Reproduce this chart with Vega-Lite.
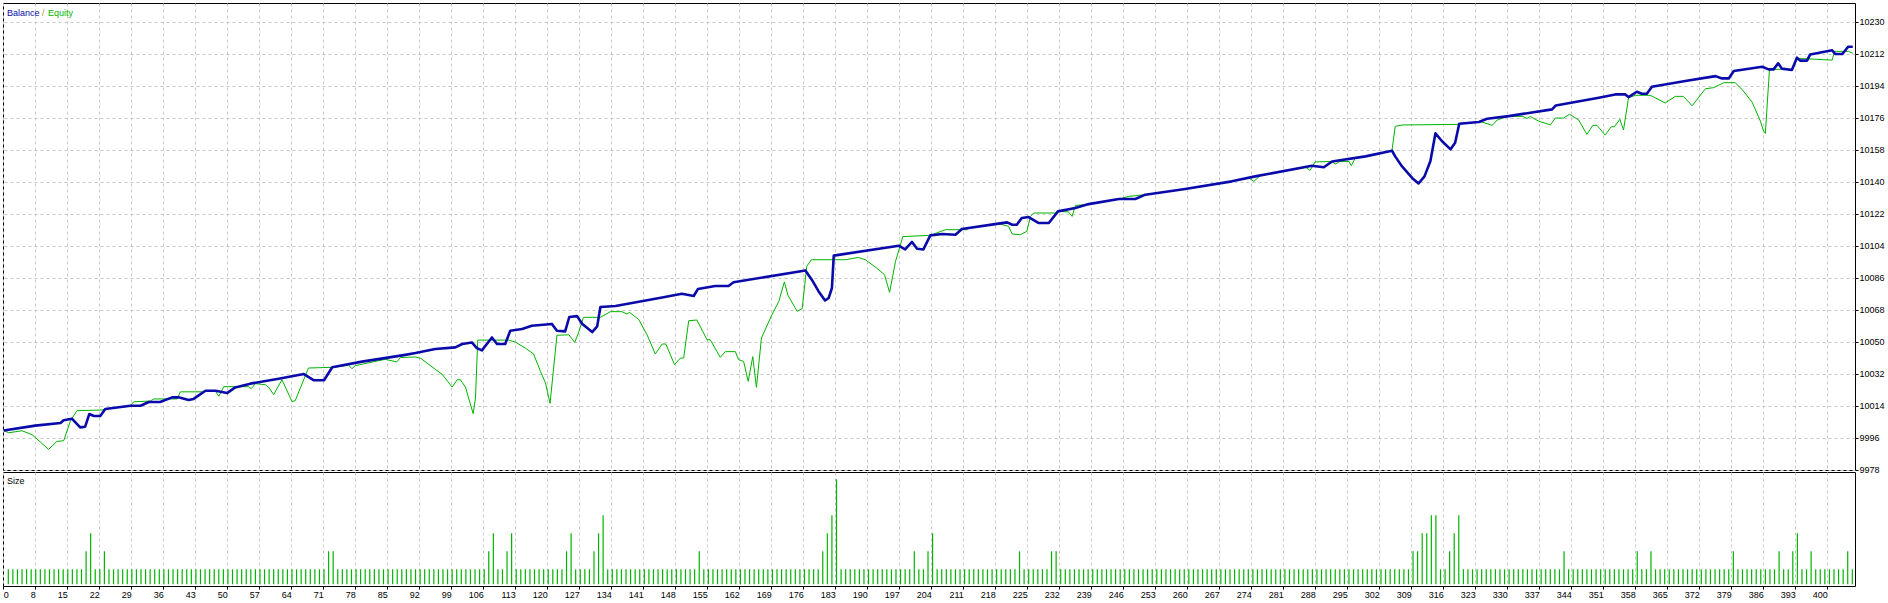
{
  "$schema": "https://vega.github.io/schema/vega-lite/v6.json",
  "background": "white",
  "padding": {"left": 1, "top": 2, "right": 0, "bottom": 0},
  "spacing": 2,
  "bounds": "flush",
  "config": {
    "font": "Liberation Sans",
    "view": {"stroke": "#000000", "strokeWidth": 1},
    "axis": {"domain": false, "labelFont": "Liberation Sans", "labelFontSize": 9, "labelColor": "#000000", "tickColor": "#000000", "gridColor": "#C8C8C8", "gridDash": [3, 3], "gridWidth": 1, "labelOverlap": false, "labelFlush": false}
  },
  "datasets": {
    "balance": [
      {"n":1,"v":10000},{"n":7.9,"v":10002.8},{"n":13.4,"v":10004.3},{"n":14.1,"v":10005.8},{"n":15.9,"v":10006.7},{"n":17.7,"v":10001.8},{"n":18.8,"v":10002.2},{"n":19.7,"v":10009.3},{"n":20.7,"v":10008.2},{"n":22.1,"v":10008.2},{"n":23.2,"v":10012.1},{"n":28.7,"v":10014},{"n":30.9,"v":10014},{"n":32.7,"v":10016.1},{"n":35.2,"v":10016.1},{"n":37.8,"v":10018.7},{"n":39.2,"v":10018.7},{"n":41.4,"v":10017.2},{"n":42.5,"v":10017.8},{"n":45.1,"v":10022.4},{"n":47.3,"v":10022.4},{"n":49.8,"v":10021.1},{"n":51.6,"v":10024.3},{"n":54.9,"v":10026.4},{"n":61.1,"v":10029.2},{"n":66.6,"v":10031.8},{"n":68.8,"v":10028.3},{"n":71,"v":10028.3},{"n":72.8,"v":10035.6},{"n":79.3,"v":10038.8},{"n":88.1,"v":10042.3},{"n":91,"v":10043.6},{"n":95.3,"v":10045.9},{"n":99.7,"v":10046.8},{"n":101.2,"v":10048.7},{"n":103.3,"v":10049.6},
      {"n":104.4,"v":10046.4},{"n":105.5,"v":10045.1},{"n":107.7,"v":10052.4},{"n":108.8,"v":10048.7},{"n":110.6,"v":10048.7},{"n":111.7,"v":10056.2},{"n":114.3,"v":10057.1},{"n":116.4,"v":10059},{"n":120.8,"v":10060},{"n":121.9,"v":10056.2},{"n":123.7,"v":10055.8},{"n":124.6,"v":10063.9},{"n":126.3,"v":10064.4},{"n":127.4,"v":10060.1},{"n":129.6,"v":10055.4},{"n":130.7,"v":10058.6},{"n":131.4,"v":10069.5},{"n":134.7,"v":10070.1},{"n":144.9,"v":10074.9},{"n":149.2,"v":10077},{"n":151.8,"v":10075.7},{"n":152.7,"v":10079.6},{"n":156.5,"v":10081.3},{"n":159.4,"v":10081.3},{"n":160.5,"v":10083.4},{"n":176.2,"v":10090.1},{"n":177.6,"v":10084.9},{"n":179.1,"v":10078.3},{"n":180.5,"v":10073.2},{"n":181.3,"v":10074.6},{"n":182,"v":10080.2},{"n":182.4,"v":10098.4},{"n":196.6,"v":10104},{"n":198,"v":10101.9},{"n":199.5,"v":10106.1},{"n":200.6,"v":10102.3},{"n":202,"v":10101.9},{"n":203.5,"v":10109.8},
      {"n":206.1,"v":10110.6},{"n":209,"v":10110.2},{"n":210.4,"v":10113.4},{"n":218.4,"v":10116.4},{"n":220.3,"v":10117.1},{"n":221.4,"v":10115.8},{"n":222.4,"v":10115.8},{"n":223.5,"v":10119.6},{"n":225,"v":10120.1},{"n":227.2,"v":10116.75},{"n":229.4,"v":10116.75},{"n":231.4,"v":10123.3},{"n":235.2,"v":10125.2},{"n":238.1,"v":10127.4},{"n":244.7,"v":10130.25},{"n":248.3,"v":10130.25},{"n":250.5,"v":10132.7},{"n":259.2,"v":10135.9},{"n":269.4,"v":10140.2},{"n":274.5,"v":10143},{"n":286.9,"v":10149},{"n":289.5,"v":10148.1},{"n":291.3,"v":10151.4},{"n":298.6,"v":10154.25},{"n":304.4,"v":10157.4},{"n":305.1,"v":10154.25},{"n":306.6,"v":10148.6},{"n":308.8,"v":10142.1},{"n":310.2,"v":10139},{"n":311.5,"v":10143},{"n":312.8,"v":10151.6},{"n":313.9,"v":10167.2},{"n":315.3,"v":10162.9},{"n":317.2,"v":10158.2},{"n":318.2,"v":10161.9},{"n":319.1,"v":10172.6},{"n":323.4,"v":10173.6},{"n":325.2,"v":10175.4},{"n":329.9,"v":10176.9},{"n":339.4,"v":10180.7},{"n":340.2,"v":10182.9},{"n":349.6,"v":10187.25},{"n":353.2,"v":10189.1},{"n":355.4,"v":10189.1},{"n":356.1,"v":10187.6},{"n":357.9,"v":10190.6},{"n":359,"v":10189.5},{"n":360.1,"v":10189.5},{"n":361.2,"v":10193.4},{"n":368.5,"v":10196.6},{"n":375.1,"v":10199.4},{"n":376.5,"v":10198.1},{"n":378,"v":10198.1},{"n":379.1,"v":10202.25},{"n":385.3,"v":10204.7},{"n":386.7,"v":10203.2},{"n":387.8,"v":10203.2},{"n":388.8,"v":10206.6},{"n":389.6,"v":10203.6},{"n":391.8,"v":10202.8},{"n":392.9,"v":10209.75},{"n":393.6,"v":10208.1},{"n":395.1,"v":10208.1},{"n":395.8,"v":10211.6},{"n":400.6,"v":10213.9},{"n":401.3,"v":10211.8},{"n":402.8,"v":10211.8},{"n":404.1,"v":10215.9},{"n":405.1,"v":10215.9}
    ],
    "equity": [
      {"n":1,"v":10000},{"n":2.1,"v":9998.8},{"n":5,"v":9999.9},{"n":7.2,"v":9997.7},{"n":9,"v":9993.6},{"n":10.8,"v":9989.4},{"n":12.6,"v":9993.9},{"n":14.1,"v":9994.3},{"n":15.6,"v":10005.6},{"n":17,"v":10011.2},{"n":22.5,"v":10011.6},{"n":23.2,"v":10012.1},{"n":28.7,"v":10014},{"n":29.4,"v":10016.2},{"n":33,"v":10016.6},{"n":33.8,"v":10017.8},{"n":38.9,"v":10017.8},{"n":39.6,"v":10021.8},{"n":44.7,"v":10021.8},{"n":45.4,"v":10022.4},{"n":47.3,"v":10022.1},{"n":48,"v":10019.3},{"n":49.1,"v":10024.7},{"n":54.5,"v":10024.7},{"n":55.1,"v":10023.6},{"n":56,"v":10026.4},{"n":58.2,"v":10025.8},{"n":58.9,"v":10024.3},{"n":60,"v":10020.2},{"n":61.8,"v":10028.6},{"n":64,"v":10016.4},{"n":64.7,"v":10016.8},{"n":67.6,"v":10035.2},{"n":73.1,"v":10035.6},{"n":76.4,"v":10036.8},{"n":77.1,"v":10034.8},{"n":77.8,"v":10036.5},{"n":84.4,"v":10040.1},{"n":86.9,"v":10038.6},{"n":87.7,"v":10041.1},{"n":91,"v":10041.4},{"n":92.1,"v":10040.7},{"n":95.3,"v":10034.5},{"n":96.8,"v":10031.7},{"n":99,"v":10024.5},{"n":100.1,"v":10028.6},{"n":100.8,"v":10028.6},{"n":101.9,"v":10024.5},{"n":103.6,"v":10009.5},{"n":104.1,"v":10018.3},{"n":104.6,"v":10050.9},
      {"n":111.35,"v":10050.9},{"n":112.8,"v":10049.8},{"n":115,"v":10046.4},{"n":116.8,"v":10043.1},{"n":118.3,"v":10033.3},{"n":119.4,"v":10026.75},{"n":120.4,"v":10015.3},{"n":121.9,"v":10053.6},{"n":124.5,"v":10053.9},{"n":125.8,"v":10049.6},{"n":126.6,"v":10054.9},{"n":127.7,"v":10063.7},{"n":131.4,"v":10063.7},{"n":133.6,"v":10066.9},{"n":136.1,"v":10066.9},{"n":137.2,"v":10065.6},{"n":137.8,"v":10066.5},{"n":139.8,"v":10062.4},{"n":141.6,"v":10053.9},{"n":143.4,"v":10043.1},{"n":144.9,"v":10048.7},{"n":145.7,"v":10048.7},{"n":147.6,"v":10037.1},{"n":148.9,"v":10040.8},{"n":149.6,"v":10040.8},{"n":150.7,"v":10061.8},{"n":152.5,"v":10062.2},{"n":154.7,"v":10051.1},{"n":155.4,"v":10051.1},{"n":157.6,"v":10041.2},{"n":158.7,"v":10044.4},{"n":160.9,"v":10044.4},{"n":161.6,"v":10039.9},{"n":162.7,"v":10038.9},{"n":163.7,"v":10027.7},{"n":164.7,"v":10041.6},{"n":165.5,"v":10024.3},{"n":166.6,"v":10052.1},{"n":168.9,"v":10065.2},{"n":170.4,"v":10072.7},{"n":171.6,"v":10083.6},{"n":172.4,"v":10076.1},{"n":174.4,"v":10067.1},{"n":175.5,"v":10068.6},{"n":176.5,"v":10092.4},{"n":177.5,"v":10096.1},{"n":184.9,"v":10096.1},{"n":187.8,"v":10097.4},{"n":189.3,"v":10096.1},{"n":191.8,"v":10091.4},{"n":193.5,"v":10087.7},{"n":194.6,"v":10077.75},{"n":195.9,"v":10095.2},{"n":197.5,"v":10109.1},{"n":203.1,"v":10109.8},{"n":203.5,"v":10109.8},
      {"n":206.8,"v":10113},{"n":211.5,"v":10113},{"n":211.9,"v":10114},{"n":218.4,"v":10116.4},{"n":220.6,"v":10114.9},{"n":221.4,"v":10110.6},{"n":223.2,"v":10110.2},{"n":224.6,"v":10112.1},{"n":225.4,"v":10120.5},{"n":226.1,"v":10122.4},{"n":231.2,"v":10122.4},{"n":231.4,"v":10123.3},{"n":233.7,"v":10123},{"n":234.5,"v":10120.5},{"n":235.2,"v":10126.7},{"n":238.1,"v":10127.1},{"n":244.7,"v":10130.25},{"n":246.9,"v":10131.75},{"n":250.5,"v":10132.7},{"n":259.2,"v":10135.9},{"n":269.4,"v":10140.2},{"n":273.1,"v":10142.1},{"n":274.2,"v":10140.2},{"n":275.6,"v":10143.4},{"n":285.5,"v":10148.1},{"n":286.5,"v":10146.4},{"n":287.6,"v":10151.1},{"n":291.3,"v":10151.4},{"n":292,"v":10149.9},{"n":293,"v":10151.4},{"n":295,"v":10151.4},{"n":295.5,"v":10149},{"n":296.4,"v":10153.5},{"n":298.6,"v":10154.25},{"n":304.4,"v":10157.4},{"n":305.1,"v":10171.1},{"n":306.6,"v":10171.9},{"n":319,"v":10172.25},{"n":319.1,"v":10172.6},{"n":323.4,"v":10173.6},{"n":324,"v":10173.6},{"n":326.3,"v":10171.7},{"n":327.4,"v":10174.7},{"n":329.9,"v":10176.9},{"n":333,"v":10176.7},{"n":333.9,"v":10175.6},{"n":334.6,"v":10176.7},{"n":336.5,"v":10174},{"n":338.3,"v":10172.6},{"n":339,"v":10171.9},{"n":340.1,"v":10175.8},{"n":341.9,"v":10175.8},{"n":343.2,"v":10177.9},{"n":345.2,"v":10174.7},{"n":347,"v":10166.6},{"n":348.3,"v":10171.7},{"n":349.2,"v":10171.7},{"n":351,"v":10166.2},{"n":352.3,"v":10170.9},{"n":353,"v":10170.9},{"n":354.2,"v":10175.1},{"n":355,"v":10169.1},{"n":356.1,"v":10187.25},{"n":357.6,"v":10188.6},{"n":360.5,"v":10188.6},{"n":361.2,"v":10188.2},{"n":364.1,"v":10184.25},{"n":366.3,"v":10188},{"n":368.1,"v":10188},{"n":370,"v":10182.7},{"n":372.9,"v":10192.3},{"n":374.7,"v":10192.9},{"n":376.9,"v":10195.7},{"n":379.4,"v":10195.7},{"n":380.9,"v":10191.9},{"n":383.1,"v":10184.8},{"n":384.9,"v":10174.1},{"n":385.6,"v":10168.5},{"n":386,"v":10167.2},{"n":386.9,"v":10203.2},{"n":391.8,"v":10203.2},{"n":392.9,"v":10209.4},{"n":400.6,"v":10208.4},{"n":401.1,"v":10213.3},{"n":404.2,"v":10213.3},{"n":405.1,"v":10212.2}
    ],
    "sizes": [
      {"n":2,"s":0.01},{"n":3,"s":0.01},{"n":4,"s":0.01},{"n":5,"s":0.01},{"n":6,"s":0.01},{"n":7,"s":0.01},{"n":8,"s":0.01},{"n":9,"s":0.01},{"n":10,"s":0.01},{"n":11,"s":0.01},
      {"n":12,"s":0.01},{"n":13,"s":0.01},{"n":14,"s":0.01},{"n":15,"s":0.01},{"n":16,"s":0.01},{"n":17,"s":0.01},{"n":18,"s":0.01},{"n":19,"s":0.02},{"n":20,"s":0.03},{"n":21,"s":0.01},
      {"n":22,"s":0.01},{"n":23,"s":0.02},{"n":24,"s":0.01},{"n":25,"s":0.01},{"n":26,"s":0.01},{"n":27,"s":0.01},{"n":28,"s":0.01},{"n":29,"s":0.01},{"n":30,"s":0.01},{"n":31,"s":0.01},
      {"n":32,"s":0.01},{"n":33,"s":0.01},{"n":34,"s":0.01},{"n":35,"s":0.01},{"n":36,"s":0.01},{"n":37,"s":0.01},{"n":38,"s":0.01},{"n":39,"s":0.01},{"n":40,"s":0.01},{"n":41,"s":0.01},
      {"n":42,"s":0.01},{"n":43,"s":0.01},{"n":44,"s":0.01},{"n":45,"s":0.01},{"n":46,"s":0.01},{"n":47,"s":0.01},{"n":48,"s":0.01},{"n":49,"s":0.01},{"n":50,"s":0.01},{"n":51,"s":0.01},
      {"n":52,"s":0.01},{"n":53,"s":0.01},{"n":54,"s":0.01},{"n":55,"s":0.01},{"n":56,"s":0.01},{"n":57,"s":0.01},{"n":58,"s":0.01},{"n":59,"s":0.01},{"n":60,"s":0.01},{"n":61,"s":0.01},
      {"n":62,"s":0.01},{"n":63,"s":0.01},{"n":64,"s":0.01},{"n":65,"s":0.01},{"n":66,"s":0.01},{"n":67,"s":0.01},{"n":68,"s":0.01},{"n":69,"s":0.01},{"n":70,"s":0.01},{"n":71,"s":0.01},
      {"n":72,"s":0.02},{"n":73,"s":0.02},{"n":74,"s":0.01},{"n":75,"s":0.01},{"n":76,"s":0.01},{"n":77,"s":0.01},{"n":78,"s":0.01},{"n":79,"s":0.01},{"n":80,"s":0.01},{"n":81,"s":0.01},
      {"n":82,"s":0.01},{"n":83,"s":0.01},{"n":84,"s":0.01},{"n":85,"s":0.01},{"n":86,"s":0.01},{"n":87,"s":0.01},{"n":88,"s":0.01},{"n":89,"s":0.01},{"n":90,"s":0.01},{"n":91,"s":0.01},
      {"n":92,"s":0.01},{"n":93,"s":0.01},{"n":94,"s":0.01},{"n":95,"s":0.01},{"n":96,"s":0.01},{"n":97,"s":0.01},{"n":98,"s":0.01},{"n":99,"s":0.01},{"n":100,"s":0.01},{"n":101,"s":0.01},
      {"n":102,"s":0.01},{"n":103,"s":0.01},{"n":104,"s":0.01},{"n":105,"s":0.01},{"n":106,"s":0.01},{"n":107,"s":0.02},{"n":108,"s":0.03},{"n":109,"s":0.01},{"n":110,"s":0.01},{"n":111,"s":0.02},
      {"n":112,"s":0.03},{"n":113,"s":0.01},{"n":114,"s":0.01},{"n":115,"s":0.01},{"n":116,"s":0.01},{"n":117,"s":0.01},{"n":118,"s":0.01},{"n":119,"s":0.01},{"n":120,"s":0.01},{"n":121,"s":0.01},
      {"n":122,"s":0.01},{"n":123,"s":0.01},{"n":124,"s":0.02},{"n":125,"s":0.03},{"n":126,"s":0.01},{"n":127,"s":0.01},{"n":128,"s":0.01},{"n":129,"s":0.01},{"n":130,"s":0.02},{"n":131,"s":0.03},
      {"n":132,"s":0.04},{"n":133,"s":0.01},{"n":134,"s":0.01},{"n":135,"s":0.01},{"n":136,"s":0.01},{"n":137,"s":0.01},{"n":138,"s":0.01},{"n":139,"s":0.01},{"n":140,"s":0.01},{"n":141,"s":0.01},
      {"n":142,"s":0.01},{"n":143,"s":0.01},{"n":144,"s":0.01},{"n":145,"s":0.01},{"n":146,"s":0.01},{"n":147,"s":0.01},{"n":148,"s":0.01},{"n":149,"s":0.01},{"n":150,"s":0.01},{"n":151,"s":0.01},
      {"n":152,"s":0.01},{"n":153,"s":0.02},{"n":154,"s":0.01},{"n":155,"s":0.01},{"n":156,"s":0.01},{"n":157,"s":0.01},{"n":158,"s":0.01},{"n":159,"s":0.01},{"n":160,"s":0.01},{"n":161,"s":0.01},
      {"n":162,"s":0.01},{"n":163,"s":0.01},{"n":164,"s":0.01},{"n":165,"s":0.01},{"n":166,"s":0.01},{"n":167,"s":0.01},{"n":168,"s":0.01},{"n":169,"s":0.01},{"n":170,"s":0.01},{"n":171,"s":0.01},
      {"n":172,"s":0.01},{"n":173,"s":0.01},{"n":174,"s":0.01},{"n":175,"s":0.01},{"n":176,"s":0.01},{"n":177,"s":0.01},{"n":178,"s":0.01},{"n":179,"s":0.01},{"n":180,"s":0.02},{"n":181,"s":0.03},
      {"n":182,"s":0.04},{"n":183,"s":0.06},{"n":184,"s":0.01},{"n":185,"s":0.01},{"n":186,"s":0.01},{"n":187,"s":0.01},{"n":188,"s":0.01},{"n":189,"s":0.01},{"n":190,"s":0.01},{"n":191,"s":0.01},
      {"n":192,"s":0.01},{"n":193,"s":0.01},{"n":194,"s":0.01},{"n":195,"s":0.01},{"n":196,"s":0.01},{"n":197,"s":0.01},{"n":198,"s":0.01},{"n":199,"s":0.01},{"n":200,"s":0.02},{"n":201,"s":0.01},
      {"n":202,"s":0.01},{"n":203,"s":0.02},{"n":204,"s":0.03},{"n":205,"s":0.01},{"n":206,"s":0.01},{"n":207,"s":0.01},{"n":208,"s":0.01},{"n":209,"s":0.01},{"n":210,"s":0.01},{"n":211,"s":0.01},
      {"n":212,"s":0.01},{"n":213,"s":0.01},{"n":214,"s":0.01},{"n":215,"s":0.01},{"n":216,"s":0.01},{"n":217,"s":0.01},{"n":218,"s":0.01},{"n":219,"s":0.01},{"n":220,"s":0.01},{"n":221,"s":0.01},
      {"n":222,"s":0.01},{"n":223,"s":0.02},{"n":224,"s":0.01},{"n":225,"s":0.01},{"n":226,"s":0.01},{"n":227,"s":0.01},{"n":228,"s":0.01},{"n":229,"s":0.01},{"n":230,"s":0.02},{"n":231,"s":0.02},
      {"n":232,"s":0.01},{"n":233,"s":0.01},{"n":234,"s":0.01},{"n":235,"s":0.01},{"n":236,"s":0.01},{"n":237,"s":0.01},{"n":238,"s":0.01},{"n":239,"s":0.01},{"n":240,"s":0.01},{"n":241,"s":0.01},
      {"n":242,"s":0.01},{"n":243,"s":0.01},{"n":244,"s":0.01},{"n":245,"s":0.01},{"n":246,"s":0.01},{"n":247,"s":0.01},{"n":248,"s":0.01},{"n":249,"s":0.01},{"n":250,"s":0.01},{"n":251,"s":0.01},
      {"n":252,"s":0.01},{"n":253,"s":0.01},{"n":254,"s":0.01},{"n":255,"s":0.01},{"n":256,"s":0.01},{"n":257,"s":0.01},{"n":258,"s":0.01},{"n":259,"s":0.01},{"n":260,"s":0.01},{"n":261,"s":0.01},
      {"n":262,"s":0.01},{"n":263,"s":0.01},{"n":264,"s":0.01},{"n":265,"s":0.01},{"n":266,"s":0.01},{"n":267,"s":0.01},{"n":268,"s":0.01},{"n":269,"s":0.01},{"n":270,"s":0.01},{"n":271,"s":0.01},
      {"n":272,"s":0.01},{"n":273,"s":0.01},{"n":274,"s":0.01},{"n":275,"s":0.01},{"n":276,"s":0.01},{"n":277,"s":0.01},{"n":278,"s":0.01},{"n":279,"s":0.01},{"n":280,"s":0.01},{"n":281,"s":0.01},
      {"n":282,"s":0.01},{"n":283,"s":0.01},{"n":284,"s":0.01},{"n":285,"s":0.01},{"n":286,"s":0.01},{"n":287,"s":0.01},{"n":288,"s":0.01},{"n":289,"s":0.01},{"n":290,"s":0.01},{"n":291,"s":0.01},
      {"n":292,"s":0.01},{"n":293,"s":0.01},{"n":294,"s":0.01},{"n":295,"s":0.01},{"n":296,"s":0.01},{"n":297,"s":0.01},{"n":298,"s":0.01},{"n":299,"s":0.01},{"n":300,"s":0.01},{"n":301,"s":0.01},
      {"n":302,"s":0.01},{"n":303,"s":0.01},{"n":304,"s":0.01},{"n":305,"s":0.01},{"n":306,"s":0.01},{"n":307,"s":0.01},{"n":308,"s":0.01},{"n":309,"s":0.02},{"n":310,"s":0.02},{"n":311,"s":0.03},
      {"n":312,"s":0.03},{"n":313,"s":0.04},{"n":314,"s":0.04},{"n":315,"s":0.01},{"n":316,"s":0.01},{"n":317,"s":0.02},{"n":318,"s":0.03},{"n":319,"s":0.04},{"n":320,"s":0.01},{"n":321,"s":0.01},
      {"n":322,"s":0.01},{"n":323,"s":0.01},{"n":324,"s":0.01},{"n":325,"s":0.01},{"n":326,"s":0.01},{"n":327,"s":0.01},{"n":328,"s":0.01},{"n":329,"s":0.01},{"n":330,"s":0.01},{"n":331,"s":0.01},
      {"n":332,"s":0.01},{"n":333,"s":0.01},{"n":334,"s":0.01},{"n":335,"s":0.01},{"n":336,"s":0.01},{"n":337,"s":0.01},{"n":338,"s":0.01},{"n":339,"s":0.01},{"n":340,"s":0.01},{"n":341,"s":0.01},
      {"n":342,"s":0.02},{"n":343,"s":0.01},{"n":344,"s":0.01},{"n":345,"s":0.01},{"n":346,"s":0.01},{"n":347,"s":0.01},{"n":348,"s":0.01},{"n":349,"s":0.01},{"n":350,"s":0.01},{"n":351,"s":0.01},
      {"n":352,"s":0.01},{"n":353,"s":0.01},{"n":354,"s":0.01},{"n":355,"s":0.01},{"n":356,"s":0.01},{"n":357,"s":0.01},{"n":358,"s":0.02},{"n":359,"s":0.01},{"n":360,"s":0.01},{"n":361,"s":0.02},
      {"n":362,"s":0.01},{"n":363,"s":0.01},{"n":364,"s":0.01},{"n":365,"s":0.01},{"n":366,"s":0.01},{"n":367,"s":0.01},{"n":368,"s":0.01},{"n":369,"s":0.01},{"n":370,"s":0.01},{"n":371,"s":0.01},
      {"n":372,"s":0.01},{"n":373,"s":0.01},{"n":374,"s":0.01},{"n":375,"s":0.01},{"n":376,"s":0.01},{"n":377,"s":0.01},{"n":378,"s":0.01},{"n":379,"s":0.02},{"n":380,"s":0.01},{"n":381,"s":0.01},
      {"n":382,"s":0.01},{"n":383,"s":0.01},{"n":384,"s":0.01},{"n":385,"s":0.01},{"n":386,"s":0.01},{"n":387,"s":0.01},{"n":388,"s":0.01},{"n":389,"s":0.02},{"n":390,"s":0.01},{"n":391,"s":0.01},
      {"n":392,"s":0.02},{"n":393,"s":0.03},{"n":394,"s":0.01},{"n":395,"s":0.01},{"n":396,"s":0.02},{"n":397,"s":0.01},{"n":398,"s":0.01},{"n":399,"s":0.01},{"n":400,"s":0.01},{"n":401,"s":0.01},
      {"n":402,"s":0.01},{"n":403,"s":0.01},{"n":404,"s":0.02},{"n":405,"s":0.01}
    ]
  },
  "vconcat": [
    {
      "width": 1852,
      "height": 467,
      "resolve": {"axis": {"x": "independent", "y": "independent"}},
      "layer": [
        {"data": {"name": "equity"}, "mark": {"type": "line", "color": "#00B400", "strokeWidth": 1, "interpolate": "linear"},
          "encoding": {
            "x": {"field": "n", "type": "quantitative", "scale": {"domain": [0.8417, 405.59], "nice": false, "zero": false},
              "axis": {"title": null, "orient": "bottom", "labels": false, "ticks": false, "grid": true, "labelOverlap": false,
                "values": [0.907,7.901,14.894,21.888,28.881,35.875,42.868,49.862,56.855,63.849,70.842,77.836,84.829,91.823,98.816,105.81,112.803,119.797,126.79,133.784,140.777,147.77,154.764,161.757,168.751,175.744,182.738,189.731,196.725,203.718,210.712,217.705,224.699,231.692,238.685,245.679,252.672,259.666,266.659,273.653,280.646,287.64,294.633,301.627,308.62,315.613,322.607,329.6,336.594,343.587,350.581,357.574,364.568,371.561,378.555,385.548,392.541,399.535]}},
            "y": {"field": "v", "type": "quantitative", "scale": {"domain": [9977.83, 10240.52], "nice": false, "zero": false},
              "axis": {"title": null, "orient": "right", "grid": true, "ticks": true, "tickSize": 3, "labelPadding": 1, "format": "d", "labelBaseline": "middle", "labelOverlap": false,
                "values": [9978,9996,10014,10032,10050,10068,10086,10104,10122,10140,10158,10176,10194,10212,10230]}}
          }},
        {"data": {"name": "balance"}, "mark": {"type": "line", "color": "#0A0AAA", "strokeWidth": 2.6, "interpolate": "linear", "strokeJoin": "round"},
          "encoding": {
            "x": {"field": "n", "type": "quantitative", "axis": null},
            "y": {"field": "v", "type": "quantitative", "axis": null}
          }},
        {"data": {"values": [{"t": "Balance"}]}, "mark": {"type": "text", "align": "left", "baseline": "alphabetic", "fontSize": 9, "color": "#0A0AAA"},
          "encoding": {"x": {"datum": 1.716, "type": "quantitative", "axis": null}, "y": {"datum": 10233.2, "type": "quantitative", "axis": null}, "text": {"field": "t"}}},
        {"data": {"values": [{"t": "/"}]}, "mark": {"type": "text", "align": "left", "baseline": "alphabetic", "fontSize": 9, "color": "#B89000"},
          "encoding": {"x": {"datum": 9.365, "type": "quantitative", "axis": null}, "y": {"datum": 10233.2, "type": "quantitative", "axis": null}, "text": {"field": "t"}}},
        {"data": {"values": [{"t": "Equity"}]}, "mark": {"type": "text", "align": "left", "baseline": "alphabetic", "fontSize": 9, "color": "#00B400"},
          "encoding": {"x": {"datum": 10.676, "type": "quantitative", "axis": null}, "y": {"datum": 10233.2, "type": "quantitative", "axis": null}, "text": {"field": "t"}}}
      ]
    },
    {
      "width": 1852,
      "height": 114,
      "resolve": {"axis": {"x": "independent", "y": "independent"}},
      "layer": [
        {"data": {"name": "sizes"}, "mark": {"type": "rule", "color": "#00B400", "strokeWidth": 1.2},
          "encoding": {
            "x": {"field": "n", "type": "quantitative", "scale": {"domain": [0.8417, 405.59], "nice": false, "zero": false},
              "axis": {"title": null, "orient": "bottom", "grid": true, "ticks": true, "tickSize": 3, "labelPadding": 1, "labelBaseline": "top", "labelOverlap": false,
                "labelAlign": {"condition": {"test": "datum.value < 2", "value": "left"}, "value": "right"},
                "labelExpr": "datum.value < 2 ? '0' : format(7 * round((datum.value - 0.9073) / 6.99347) + 1, 'd')",
                "values": [0.907,7.901,14.894,21.888,28.881,35.875,42.868,49.862,56.855,63.849,70.842,77.836,84.829,91.823,98.816,105.81,112.803,119.797,126.79,133.784,140.777,147.77,154.764,161.757,168.751,175.744,182.738,189.731,196.725,203.718,210.712,217.705,224.699,231.692,238.685,245.679,252.672,259.666,266.659,273.653,280.646,287.64,294.633,301.627,308.62,315.613,322.607,329.6,336.594,343.587,350.581,357.574,364.568,371.561,378.555,385.548,392.541,399.535]}},
            "y": {"field": "s", "type": "quantitative", "scale": {"domain": [0.00072, 0.06405], "nice": false, "zero": false}, "axis": null},
            "y2": {"datum": 0.00166}
          }},
        {"data": {"values": [{"t": "Size"}]}, "mark": {"type": "text", "align": "left", "baseline": "alphabetic", "fontSize": 9, "color": "#000000"},
          "encoding": {"x": {"datum": 1.716, "type": "quantitative", "axis": null}, "y": {"datum": 0.05738, "type": "quantitative", "axis": null}, "text": {"field": "t"}}},
        {"mark": {"type": "rule", "color": "#000000", "strokeWidth": 1},
          "encoding": {"x": {"datum": 0.623, "type": "quantitative", "axis": null}, "x2": {"datum": 26.41}, "y": {"datum": -0.00856, "type": "quantitative", "axis": null}}},
        {"mark": {"type": "rule", "color": "#000000", "strokeWidth": 1},
          "encoding": {"x": {"datum": 37.556, "type": "quantitative", "axis": null}, "x2": {"datum": 413.18}, "y": {"datum": -0.00856, "type": "quantitative", "axis": null}}}
      ]
    }
  ]
}
